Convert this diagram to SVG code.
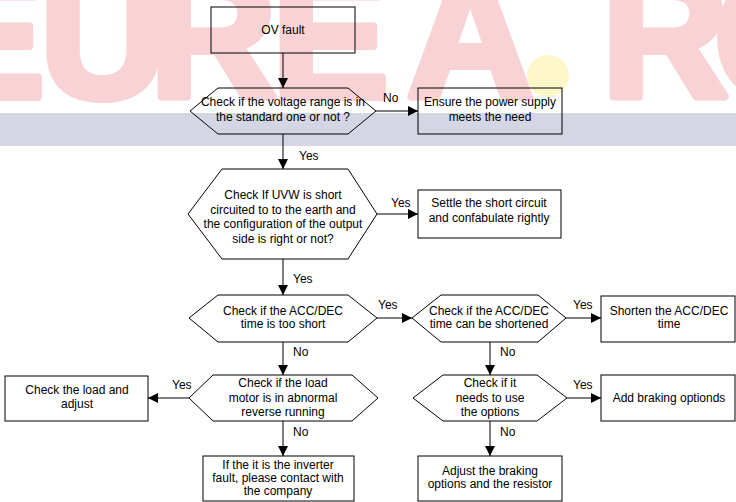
<svg xmlns="http://www.w3.org/2000/svg" width="736" height="502" viewBox="0 0 736 502">
<style>
.wm{font-family:"Liberation Sans",Arial,sans-serif;font-weight:bold;font-size:175px;fill:#f8d2d5;stroke:#f8d2d5;stroke-width:8;stroke-linejoin:round}
.shape{fill:none;stroke:#000;stroke-width:1}
.t{font-family:"Liberation Sans",Arial,sans-serif;font-size:12px;fill:#000;text-anchor:middle}
.lbl{font-family:"Liberation Sans",Arial,sans-serif;font-size:12px;fill:#000}
.conn line{stroke:#000;stroke-width:1;marker-end:url(#ah)}
</style>
<defs>
<marker id="ah" markerUnits="userSpaceOnUse" markerWidth="10" markerHeight="10" refX="10" refY="5" orient="auto">
<path d="M0,0 L10,5 L0,10 z" fill="#000"/>
</marker>
</defs>
<rect width="736" height="502" fill="#fff"/>
<g id="watermark">
<text class="wm" x="-72" y="97">E</text>
<text class="wm" x="40" y="97">U</text>
<text class="wm" x="150" y="97">R</text>
<text class="wm" x="272" y="97">E</text>
<text class="wm" x="407" y="97">A</text>
<text class="wm" x="602" y="97">R</text>
<text class="wm" x="714" y="97">O</text>
<circle cx="548" cy="76" r="21" fill="#fdf6c8"/>
<rect x="0" y="113" width="736" height="33" fill="#d4d6e4"/>
</g>
<g class="conn" id="connectors">
<line x1="283" y1="53" x2="283" y2="88"/>
<line x1="376" y1="111" x2="418" y2="111"/>
<line x1="283" y1="134" x2="283" y2="169"/>
<line x1="377" y1="214" x2="418" y2="214"/>
<line x1="283" y1="259" x2="283" y2="295"/>
<line x1="377" y1="318" x2="412" y2="318"/>
<line x1="566" y1="318" x2="601" y2="318"/>
<line x1="283" y1="342" x2="283" y2="375"/>
<line x1="490" y1="342" x2="490" y2="375"/>
<line x1="189" y1="398" x2="148" y2="398"/>
<line x1="567" y1="398" x2="601" y2="398"/>
<line x1="283" y1="421" x2="283" y2="456"/>
<line x1="490" y1="421" x2="490" y2="456"/>
<text class="lbl" x="383" y="102">No</text>
<text class="lbl" x="299" y="160">Yes</text>
<text class="lbl" x="391" y="207">Yes</text>
<text class="lbl" x="293" y="283">Yes</text>
<text class="lbl" x="378" y="309">Yes</text>
<text class="lbl" x="573" y="309">Yes</text>
<text class="lbl" x="293" y="356">No</text>
<text class="lbl" x="500" y="356">No</text>
<text class="lbl" x="172" y="389">Yes</text>
<text class="lbl" x="573" y="389">Yes</text>
<text class="lbl" x="293" y="436">No</text>
<text class="lbl" x="500" y="436">No</text>
</g>
<g id="ov-fault">
<rect class="shape" x="211" y="7" width="144" height="46"/>
<text class="t" x="283" y="34">OV fault</text>
</g>
<g id="check-voltage">
<polygon class="shape" points="190,111 218,88 348,88 376,111 348,134 218,134"/>
<text class="t" x="283" y="106">Check if the voltage range is in</text>
<text class="t" x="283" y="121">the standard one or not ?</text>
</g>
<g id="ensure-power">
<rect class="shape" x="418" y="88" width="144" height="46"/>
<text class="t" x="490" y="106">Ensure the power supply</text>
<text class="t" x="490" y="121">meets the need</text>
</g>
<g id="check-uvw">
<polygon class="shape" points="188,214 222,169 348,169 377,214 348,259 222,259"/>
<text class="t" x="283" y="199">Check If UVW is short</text>
<text class="t" x="283" y="214">circuited to to the earth and</text>
<text class="t" x="283" y="228">the configuration of the output</text>
<text class="t" x="283" y="243">side is right or not?</text>
</g>
<g id="settle-short">
<rect class="shape" x="418" y="190" width="143" height="48"/>
<text class="t" x="489" y="207">Settle the short circuit</text>
<text class="t" x="489" y="222">and confabulate rightly</text>
</g>
<g id="check-accdec-short">
<polygon class="shape" points="189,318 218,295 348,295 377,318 348,342 218,342"/>
<text class="t" x="283" y="315">Check if the ACC/DEC</text>
<text class="t" x="283" y="328">time is too short</text>
</g>
<g id="check-accdec-shorten">
<polygon class="shape" points="412,318 441,295 538,295 566,318 538,342 441,342"/>
<text class="t" x="489" y="315">Check if the ACC/DEC</text>
<text class="t" x="489" y="328">time can be shortened</text>
</g>
<g id="shorten-accdec">
<rect class="shape" x="601" y="296" width="134" height="46"/>
<text class="t" x="669" y="315">Shorten the ACC/DEC</text>
<text class="t" x="669" y="328">time</text>
</g>
<g id="check-load-motor">
<polygon class="shape" points="189,398 213,375 352,375 378,398 352,421 213,421"/>
<text class="t" x="283" y="387">Check if the load</text>
<text class="t" x="283" y="402">motor is in abnormal</text>
<text class="t" x="283" y="416">reverse running</text>
</g>
<g id="check-load-adjust">
<rect class="shape" x="5" y="376" width="143" height="45"/>
<text class="t" x="77" y="394">Check the load and</text>
<text class="t" x="77" y="408">adjust</text>
</g>
<g id="check-options">
<polygon class="shape" points="413,398 443,375 537,375 567,398 537,421 443,421"/>
<text class="t" x="490" y="387">Check if it</text>
<text class="t" x="490" y="402">needs to use</text>
<text class="t" x="490" y="416">the options</text>
</g>
<g id="add-braking">
<rect class="shape" x="601" y="375" width="134" height="46"/>
<text class="t" x="669" y="402">Add braking optionds</text>
</g>
<g id="inverter-fault">
<rect class="shape" x="203" y="456" width="151" height="45"/>
<text class="t" x="278" y="469">If the it is the inverter</text>
<text class="t" x="278" y="482">fault, please contact with</text>
<text class="t" x="278" y="495">the company</text>
</g>
<g id="adjust-braking">
<rect class="shape" x="418" y="456" width="144" height="45"/>
<text class="t" x="490" y="475">Adjust the braking</text>
<text class="t" x="490" y="488">options and the resistor</text>
</g>
</svg>
